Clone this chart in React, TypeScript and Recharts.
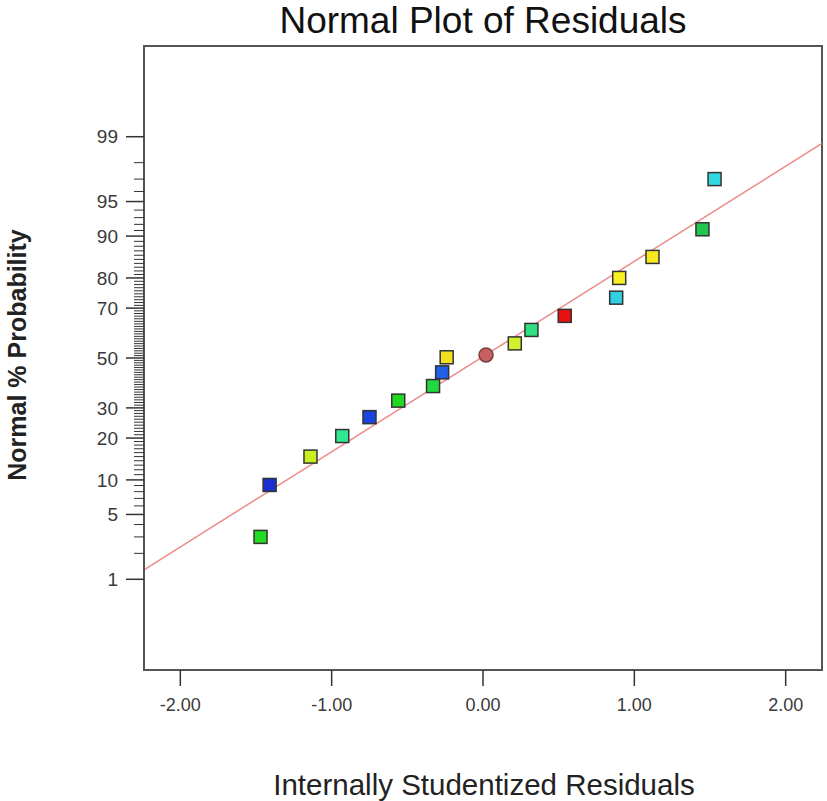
import React from "react";
import { ComposedChart, Scatter, Line, XAxis, YAxis, ReferenceArea } from "recharts";

// residual (x) and normal % probability (y) for each run
const residuals = [-1.47, -1.41, -1.14, -0.93, -0.75, -0.56, -0.33, -0.27, -0.24, 0.02, 0.21, 0.32, 0.54, 0.88, 0.9, 1.12, 1.45, 1.53];
const normalProb = [3.0, 9.1, 15.0, 20.6, 26.7, 32.7, 38.4, 44.0, 50.3, 51.3, 56.1, 61.6, 67.1, 73.7, 80.0, 85.6, 91.2, 97.0];
const pointColors = [
  "#22dd22", "#1a2fd0", "#c8f020", "#30e890", "#1a44e0", "#22d822",
  "#22d840", "#2060e8", "#f2e020", "#c86060", "#d0f030", "#30e080",
  "#e81010", "#30d0e0", "#f8f020", "#f8e820", "#20c850", "#30d8e0",
];
const pointShapes = [
  "square", "square", "square", "square", "square", "square",
  "square", "square", "square", "circle", "square", "square",
  "square", "square", "square", "square", "square", "square",
];

// fitted normal line end points
const fitResidual = [-2.24, 2.24];
const fitProb = [1.3, 98.8];

const xTicks = [-2, -1, 0, 1, 2];
const yLabelled = [1, 5, 10, 20, 30, 50, 70, 80, 90, 95, 99];
const yTickPercents = Array.from({ length: 99 }, (_, i) => i + 1);

// inverse normal cdf (Acklam) - turns % probability into the probit axis
function probit(p: number) {
  const a = [-39.69683028665376, 220.9460984245205, -275.9285104469687, 138.357751867269, -30.66479806614716, 2.506628277459239];
  const b = [-54.47609879822406, 161.5858368580409, -155.6989798598866, 66.80131188771972, -13.28068155288572];
  const c = [-0.007784894002430293, -0.3223964580411365, -2.400758277161838, -2.549732539343734, 4.374664141464968, 2.938163982698783];
  const d = [0.007784695709041462, 0.3224671290700398, 2.445134137142996, 3.754408661907416];
  const pl = 0.02425;
  if (p < pl) {
    const q = Math.sqrt(-2 * Math.log(p));
    return (((((c[0] * q + c[1]) * q + c[2]) * q + c[3]) * q + c[4]) * q + c[5]) / ((((d[0] * q + d[1]) * q + d[2]) * q + d[3]) * q + 1);
  }
  if (p > 1 - pl) {
    const q = Math.sqrt(-2 * Math.log(1 - p));
    return -(((((c[0] * q + c[1]) * q + c[2]) * q + c[3]) * q + c[4]) * q + c[5]) / ((((d[0] * q + d[1]) * q + d[2]) * q + d[3]) * q + 1);
  }
  const q = p - 0.5;
  const r = q * q;
  return ((((((a[0] * r + a[1]) * r + a[2]) * r + a[3]) * r + a[4]) * r + a[5]) * q) / (((((b[0] * r + b[1]) * r + b[2]) * r + b[3]) * r + b[4]) * r + 1);
}

const points = residuals.map((x, i) => ({
  x,
  z: probit(normalProb[i] / 100),
  color: pointColors[i],
  shape: pointShapes[i],
}));
const fitLine = fitResidual.map((x, i) => ({ x, z: probit(fitProb[i] / 100) }));
const yTicks = yTickPercents.map((p) => probit(p / 100));

const FONT = "'Liberation Sans', Arial, sans-serif";

const PointShape = (props: any) => {
  const { cx, cy, payload } = props;
  if (cx == null || cy == null) return null;
  if (payload.shape === "circle") {
    return <circle cx={cx} cy={cy} r={7} fill={payload.color} stroke="#7a4040" strokeWidth={1.5} />;
  }
  return (
    <rect x={cx - 6.5} y={cy - 6.5} width={13} height={13} fill={payload.color} stroke="#333" strokeWidth={1.5} />
  );
};

const ProbTick = (props: any) => {
  const { x, y, index } = props;
  const pct = yTickPercents[index];
  const major = yLabelled.includes(pct);
  return (
    <g>
      <line x1={x - (major ? 18 : 10)} x2={x} y1={y} y2={y} stroke="#333" strokeWidth={major ? 1.5 : 1} />
      {major && (
        <text x={x - 26} y={y} dy="0.35em" textAnchor="end" fontSize={19} fill="#3a3a3a" fontFamily={FONT}>
          {pct}
        </text>
      )}
    </g>
  );
};

export default function App() {
  return (
    <div style={{ position: "absolute", left: 0, top: 0, width: 827, height: 801, background: "#fff", fontFamily: FONT }}>
      <div style={{ position: "absolute", left: 0, width: 966, top: -1, textAlign: "center", fontSize: 37, color: "#111", lineHeight: "44px" }}>
        Normal Plot of Residuals
      </div>
      <div
        style={{
          position: "absolute",
          left: 17,
          top: 355,
          transform: "translate(-50%, -50%) rotate(-90deg)",
          whiteSpace: "nowrap",
          fontSize: 25,
          fontWeight: "bold",
          color: "#222",
        }}
      >
        Normal % Probability
      </div>
      <div style={{ position: "absolute", left: 0, width: 968, top: 767, textAlign: "center", fontSize: 29.5, color: "#222", lineHeight: "36px" }}>
        Internally Studentized Residuals
      </div>
      <ComposedChart width={827} height={801} margin={{ top: 46, right: 5, bottom: 0, left: 84 }}>
        <ReferenceArea x1={-2.24} x2={2.24} y1={-3.28} y2={3.28} fill="none" stroke="#555" strokeWidth={2} ifOverflow="extendDomain" />
        <XAxis
          dataKey="x"
          type="number"
          domain={[-2.24, 2.24]}
          ticks={xTicks}
          tickFormatter={(v: number) => v.toFixed(2)}
          height={131}
          tickSize={16}
          tickMargin={12}
          interval={0}
          axisLine={{ stroke: "#555", strokeWidth: 2 }}
          tickLine={{ stroke: "#333", strokeWidth: 1.5 }}
          tick={{ fontSize: 18, fill: "#3a3a3a", fontFamily: FONT }}
          allowDataOverflow
        />
        <YAxis
          dataKey="z"
          type="number"
          domain={[-3.28, 3.28]}
          ticks={yTicks}
          interval={0}
          width={60}
          tickSize={0}
          tickMargin={0}
          tickLine={false}
          axisLine={{ stroke: "#555", strokeWidth: 2 }}
          tick={<ProbTick />}
          allowDataOverflow
        />
        <Line data={fitLine} dataKey="z" stroke="#ec8a8a" strokeWidth={1.5} dot={false} isAnimationActive={false} legendType="none" />
        <Scatter data={points} dataKey="z" shape={<PointShape />} isAnimationActive={false} />
      </ComposedChart>
    </div>
  );
}
